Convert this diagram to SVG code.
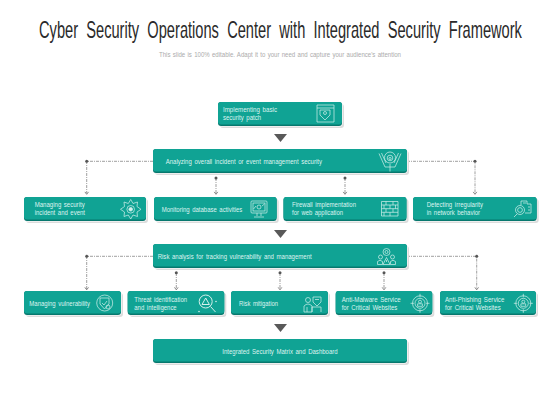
<svg xmlns="http://www.w3.org/2000/svg" width="560" height="420" viewBox="0 0 560 420">
<style>
text{font-family:"Liberation Sans",Arial,sans-serif}
.t{font-size:6.6px;fill:#dff3f0;word-spacing:1px}
.title{font-size:23px;fill:#2a2a2a;word-spacing:6.500px}
.sub{font-size:6.4px;fill:#ababab;word-spacing:.6px}
.s{fill:#dcdcdc}.w{fill:#fff}.d{fill:#07786e}.m{fill:#10a394}
.l{stroke:#777;stroke-width:.7;stroke-dasharray:3 1 1 1;fill:none}
.dot{fill:#555}
.ah{fill:none;stroke:#666;stroke-width:.8}
.tri{fill:#595959}
.i{fill:none;stroke:#d5f0ec;stroke-width:.7}
.if{fill:#d5f0ec}
</style>
<defs>
<g id="target" class="i"><circle r="7.5"/><circle r="5"/><path d="M0-9.500V-6M0 6V9.500M-9.500 0H-6M6 0H9.500"/><circle cy="-1.600" r="1.500"/><path d="M-2.400 3V.5H2.400V3Z"/></g>
<path id="arr" class="ah" d="M-1.800-1.600L0 .8 1.800-1.600"/>
</defs>
<text class="title" transform="translate(39 37.500) scale(.637 1)">Cyber Security Operations Center with Integrated Security Framework</text>
<text class="sub" x="159" y="56.500" textLength="242" lengthAdjust="spacingAndGlyphs">This slide is 100% editable. Adapt it to your need and capture your audience's attention</text>

<g id="connectors">
<path class="l" d="M153 161.300H86.700V193M216 178V193M345 178V193M407 161.300H475V193"/>
<path class="l" d="M153 256.300H86.700V289M176.300 273V289M280 273V289M384 273V289M407 256.300H476.700V289"/>
<g class="dot"><circle cx="86.700" cy="161.300" r="1.500"/><circle cx="216" cy="178" r="1.500"/><circle cx="345" cy="178" r="1.500"/><circle cx="475" cy="161.300" r="1.500"/><circle cx="86.700" cy="256.300" r="1.500"/><circle cx="176.300" cy="272.700" r="1.500"/><circle cx="280" cy="272.700" r="1.500"/><circle cx="384" cy="272.700" r="1.500"/><circle cx="476.700" cy="256.300" r="1.500"/></g>
<use href="#arr" x="86.700" y="193.500"/><use href="#arr" x="216" y="193.500"/><use href="#arr" x="345" y="193.500"/><use href="#arr" x="475" y="193.500"/>
<use href="#arr" x="86.700" y="289"/><use href="#arr" x="176.300" y="289"/><use href="#arr" x="280" y="289"/><use href="#arr" x="384" y="289"/><use href="#arr" x="476.700" y="289"/>
<path class="tri" d="M274 134H287L280.500 142Z"/>
<path class="tri" d="M274 230H287L280.500 238Z"/>
<path class="tri" d="M274 324H287L280.500 332Z"/>
</g>

<g id="n1">
<rect class="s" x="220" y="104" width="124" height="24" rx="3"/><rect class="w" x="218.500" y="102.500" width="124" height="24" rx="3"/><rect class="d" x="218" y="102" width="124" height="24" rx="3"/><rect class="m" x="218" y="102" width="124" height="22.500" rx="3"/>
<text class="t" x="223" y="112" textLength="54" lengthAdjust="spacingAndGlyphs">Implementing basic</text>
<text class="t" x="223" y="120" textLength="38" lengthAdjust="spacingAndGlyphs">security patch</text>
<g class="i"><path d="M317 105H334V122H317ZM317 108H334"/><path d="M320 110H330V115L325 120 320 115Z"/><circle cx="325" cy="113" r="1.500"/></g>
</g>

<g id="n2">
<rect class="s" x="155" y="151" width="254" height="24" rx="3"/><rect class="w" x="153.500" y="149.500" width="254" height="24" rx="3"/><rect class="d" x="153" y="149" width="254" height="24" rx="3"/><rect class="m" x="153" y="149" width="254" height="22.500" rx="3"/>
<text class="t" x="165.700" y="164" textLength="156.300" lengthAdjust="spacingAndGlyphs">Analyzing overall incident or event management security</text>
<g class="i"><circle cx="390" cy="157.500" r="5.500"/><circle cx="390" cy="158" r="2.800"/><circle cx="390" cy="158.500" r="1.100"/><path d="M379 153.500L385 167H395L401 153.500M381.500 153L386 163M398.500 153L394 163M390 164V171.500"/></g>
</g>

<g id="n3">
<rect class="s" x="26" y="199" width="122" height="24" rx="3"/><rect class="w" x="24.500" y="197.500" width="122" height="24" rx="3"/><rect class="d" x="24" y="197" width="122" height="24" rx="3"/><rect class="m" x="24" y="197" width="122" height="22.500" rx="3"/>
<text class="t" x="34.700" y="207" textLength="50" lengthAdjust="spacingAndGlyphs">Managing security</text>
<text class="t" x="34.700" y="215.300" textLength="50.300" lengthAdjust="spacingAndGlyphs">incident and event</text>
<g class="i"><path d="M130.700 199.500L133 203.500 137.500 202 137 206.500 141 209.300 137 212 137.500 216.500 133 215 130.700 219 128.300 215 124 216.500 124.500 212 120.500 209.300 124.500 206.500 124 202 128.300 203.500Z"/><circle cx="130.700" cy="209.300" r="3.800"/><circle class="if" cx="130.700" cy="209.300" r="1.800"/></g>
</g>

<g id="n4">
<rect class="s" x="156" y="199" width="122.700" height="24" rx="3"/><rect class="w" x="154.500" y="197.500" width="122.700" height="24" rx="3"/><rect class="d" x="154" y="197" width="122.700" height="24" rx="3"/><rect class="m" x="154" y="197" width="122.700" height="22.500" rx="3"/>
<text class="t" x="161.700" y="211.500" textLength="80.600" lengthAdjust="spacingAndGlyphs">Monitoring database activities</text>
<g class="i"><rect x="251" y="201" width="16" height="12" rx="1"/><rect x="253" y="203" width="12" height="8"/><circle cx="259" cy="207" r="2"/><path d="M253.500 209L256 206M262 206L264.500 204M257 213V216M261 213V216M254 217H264"/></g>
</g>

<g id="n5">
<rect class="s" x="285.500" y="199" width="123" height="24" rx="3"/><rect class="w" x="284" y="197.500" width="123" height="24" rx="3"/><rect class="d" x="283.500" y="197" width="123" height="24" rx="3"/><rect class="m" x="283.500" y="197" width="123" height="22.500" rx="3"/>
<text class="t" x="292" y="207" textLength="64" lengthAdjust="spacingAndGlyphs">Firewall implementation</text>
<text class="t" x="292" y="215.300" textLength="51" lengthAdjust="spacingAndGlyphs">for web application</text>
<g class="i"><path d="M381.500 201.500H398V216H381.500ZM381.500 205H398M381.500 208.700H398M381.500 212.300H398M386 201.500V205M393 201.500V205M384 205V208.700M390 205V208.700M395.500 205V208.700M386 208.700V212.300M393 208.700V212.300M384 212.300V216M390 212.300V216"/></g>
</g>

<g id="n6">
<rect class="s" x="415" y="199" width="123.700" height="24" rx="3"/><rect class="w" x="413.500" y="197.500" width="123.700" height="24" rx="3"/><rect class="d" x="413" y="197" width="123.700" height="24" rx="3"/><rect class="m" x="413" y="197" width="123.700" height="22.500" rx="3"/>
<text class="t" x="426.700" y="207" textLength="56.300" lengthAdjust="spacingAndGlyphs">Detecting irregularity</text>
<text class="t" x="426.700" y="215.300" textLength="53.300" lengthAdjust="spacingAndGlyphs">in network behavior</text>
<g class="i"><path d="M521 205V201H527V204H531V213H525"/><circle cx="520" cy="210" r="4.500"/><circle cx="520" cy="210" r="2.400"/><path d="M517 214L514 217M523 203H526M528 207H530M528 210H530"/></g>
</g>

<g id="n7">
<rect class="s" x="155" y="246" width="254" height="24" rx="3"/><rect class="w" x="153.500" y="244.500" width="254" height="24" rx="3"/><rect class="d" x="153" y="244" width="254" height="24" rx="3"/><rect class="m" x="153" y="244" width="254" height="22.500" rx="3"/>
<text class="t" x="157.700" y="259" textLength="154" lengthAdjust="spacingAndGlyphs">Risk analysis for tracking vulnerability and management</text>
<g class="i"><circle cx="386.500" cy="252" r="3.500"/><circle cx="386.500" cy="252" r="1.500"/><circle cx="380.500" cy="257" r="2"/><circle cx="392.500" cy="257" r="2"/><path d="M377.500 264.500V261.500Q380 259 382.500 261.500V264.500ZM390.500 264.500V261.500Q393 259 395.500 261.500V264.500ZM386.500 257.500L383 264.500H390ZM386.500 260V262"/></g>
</g>

<g id="n8">
<rect class="s" x="26" y="293" width="97" height="24" rx="3"/><rect class="w" x="24.500" y="291.500" width="97" height="24" rx="3"/><rect class="d" x="24" y="291" width="97" height="24" rx="3"/><rect class="m" x="24" y="291" width="97" height="22.500" rx="3"/>
<text class="t" x="29.300" y="306" textLength="60.700" lengthAdjust="spacingAndGlyphs">Managing vulnerability</text>
<g class="i"><circle cx="104.700" cy="303" r="8"/><path d="M100 298H109V304L104.500 309 100 304ZM102 303L104 305 107 301"/><circle cx="108" cy="307" r="2"/></g>
</g>

<g id="n9">
<rect class="s" x="129.700" y="293" width="96.600" height="24" rx="3"/><rect class="w" x="128.200" y="291.500" width="96.600" height="24" rx="3"/><rect class="d" x="127.700" y="291" width="96.600" height="24" rx="3"/><rect class="m" x="127.700" y="291" width="96.600" height="22.500" rx="3"/>
<text class="t" x="134.300" y="302" textLength="52.700" lengthAdjust="spacingAndGlyphs">Threat identification</text>
<text class="t" x="134.300" y="310" textLength="42.400" lengthAdjust="spacingAndGlyphs">and intelligence</text>
<g class="i" style="stroke-width:1"><circle cx="205.700" cy="301.500" r="6.500"/><path d="M202 304.500L205.700 298 209.400 304.500ZM210.500 306.500L215.500 312"/></g>
<circle class="if" cx="216" cy="301.500" r=".8"/><circle class="if" cx="199" cy="311.500" r=".8"/>
</g>

<g id="n10">
<rect class="s" x="233" y="293" width="97" height="24" rx="3"/><rect class="w" x="231.500" y="291.500" width="97" height="24" rx="3"/><rect class="d" x="231" y="291" width="97" height="24" rx="3"/><rect class="m" x="231" y="291" width="97" height="22.500" rx="3"/>
<text class="t" x="239" y="306" textLength="39" lengthAdjust="spacingAndGlyphs">Risk mitigation</text>
<g class="i"><circle cx="308" cy="300" r="2.500"/><path d="M304 312V306Q308 302 312 306V312ZM313 297H321V302L317 306 313 302ZM315 299.500H319M312 312V307H321V312M307 307V312"/></g>
</g>

<g id="n11">
<rect class="s" x="337.700" y="293" width="96.600" height="24" rx="3"/><rect class="w" x="336.200" y="291.500" width="96.600" height="24" rx="3"/><rect class="d" x="335.700" y="291" width="96.600" height="24" rx="3"/><rect class="m" x="335.700" y="291" width="96.600" height="22.500" rx="3"/>
<text class="t" x="341.700" y="302" textLength="59" lengthAdjust="spacingAndGlyphs">Anti-Malware Service</text>
<text class="t" x="341.700" y="310" textLength="55.600" lengthAdjust="spacingAndGlyphs">for Critical Websites</text>
<use href="#target" x="420" y="303.300"/>
</g>

<g id="n12">
<rect class="s" x="442" y="293" width="96" height="24" rx="3"/><rect class="w" x="440.500" y="291.500" width="96" height="24" rx="3"/><rect class="d" x="440" y="291" width="96" height="24" rx="3"/><rect class="m" x="440" y="291" width="96" height="22.500" rx="3"/>
<text class="t" x="445" y="302" textLength="59.300" lengthAdjust="spacingAndGlyphs">Anti-Phishing Service</text>
<text class="t" x="445" y="310" textLength="55.700" lengthAdjust="spacingAndGlyphs">for Critical Websites</text>
<use href="#target" x="523.300" y="303.300"/>
</g>

<g id="n13">
<rect class="s" x="155" y="341" width="254" height="24" rx="3"/><rect class="w" x="153.500" y="339.500" width="254" height="24" rx="3"/><rect class="d" x="153" y="339" width="254" height="24" rx="3"/><rect class="m" x="153" y="339" width="254" height="22.500" rx="3"/>
<text class="t" x="222.300" y="354" textLength="115.400" lengthAdjust="spacingAndGlyphs">Integrated Security Matrix and Dashboard</text>
</g>
</svg>
